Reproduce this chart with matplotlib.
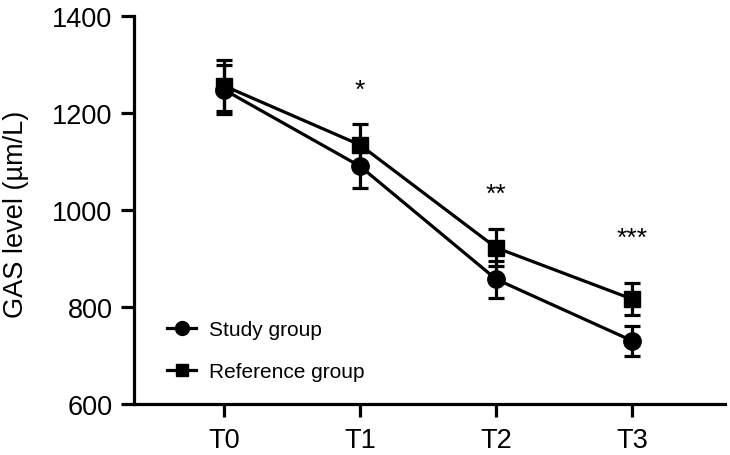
import numpy as np
import matplotlib
matplotlib.use("Agg")
import matplotlib.pyplot as plt
from matplotlib.lines import Line2D

plt.rcParams['font.family'] = ['Liberation Sans', 'DejaVu Sans']

# time points
times = ["T0", "T1", "T2", "T3"]

# GAS level, mean and SD (um/L)
study_mean = [1248, 1090, 857, 730]
study_sd = [50, 45, 38, 31]
ref_mean = [1256, 1134, 922, 816]
ref_sd = [52, 43, 38, 33]

# significance marks
sig_marks = ["", "*", "**", "***"]
sig_y = [None, 1234, 1018, 928]

x = np.arange(len(times))

fig = plt.figure(figsize=(7.3, 4.56), dpi=100)
ax = fig.add_axes([0.1836, 0.112, 0.8094, 0.851])

lw = 2.3
ax.errorbar(x, study_mean, yerr=study_sd, color='black', marker='o', markersize=12.5,
            linewidth=lw, elinewidth=lw, capsize=6, capthick=lw, zorder=3)
ax.errorbar(x, ref_mean, yerr=ref_sd, color='black', marker='s', markersize=11.5,
            linewidth=lw, elinewidth=lw, capsize=6, capthick=lw, zorder=3)

for xi, m, y in zip(x, sig_marks, sig_y):
    if m:
        ax.text(xi, y, m, ha='center', va='baseline', fontsize=19)

ax.set_xlim(-0.66, 3.68)
ax.set_ylim(600, 1400)
ax.set_yticks([600, 800, 1000, 1200, 1400])
ax.set_xticks(x)
ax.set_xticklabels(times)

ax.spines['top'].set_visible(False)
ax.spines['right'].set_visible(False)
ax.spines['left'].set_linewidth(lw)
ax.spines['bottom'].set_linewidth(lw)
ax.tick_params(axis='both', width=lw, length=9.5, labelsize=19.5, direction='out')
ax.tick_params(axis='x', pad=7)
ax.tick_params(axis='y', pad=6)

ax.set_ylabel('GAS level (µm/L)', fontsize=19.5)
ax.yaxis.set_label_coords(-0.178, 0.49)

handles = [Line2D([], [], color='black', marker='o', markersize=10, linewidth=lw),
           Line2D([], [], color='black', marker='s', markersize=9, linewidth=lw)]
ax.legend(handles, ['Study group', 'Reference group'], loc='lower left',
          bbox_to_anchor=(0.042, 0.037), frameon=False, fontsize=15, handlelength=1.4,
          handletextpad=0.6, labelspacing=1.1, borderaxespad=0)

fig.savefig('out.png', dpi=100)
